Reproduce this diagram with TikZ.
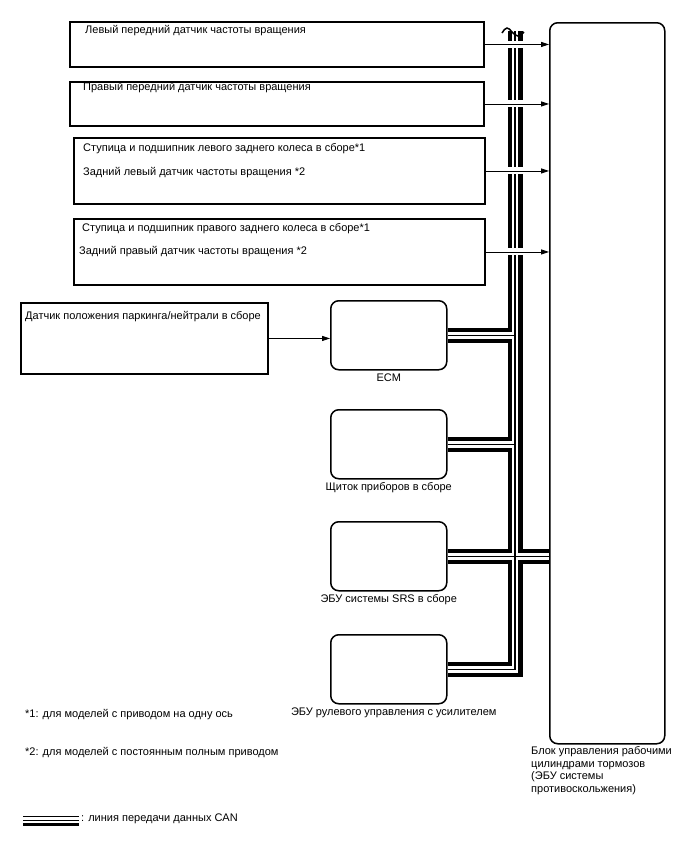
\documentclass[tikz,border=0pt]{standalone}
\usepackage{fontspec}
\setmainfont{Liberation Sans}
\usetikzlibrary{positioning,arrows.meta}

\begin{document}
\begin{tikzpicture}[
  x=1pt,
  y=-1pt,
  font=\fontsize{11}{13}\selectfont,
  sensorbox/.style={
    draw=black,
    line width=1.9pt,
    anchor=north west,
    inner sep=0pt
  },
  unitbox/.style={
    draw=black,
    line width=1.5pt,
    rounded corners=8pt,
    anchor=north west,
    inner sep=0pt,
    minimum width=116pt,
    minimum height=69pt
  },
  boxtext/.style={
    anchor=west,
    inner sep=0pt
  },
  unitlabel/.style={
    inner sep=1pt
  },
  sigarrow/.style={
    draw=black,
    line width=0.9pt,
    -{Triangle[length=8pt,width=5pt]},
    preaction={draw=white,-,line width=7pt,shorten <=10pt,shorten >=10pt}
  },
  canouter/.style={
    draw=black,
    line width=15pt
  },
  cangap/.style={
    draw=white,
    line width=6.6pt
  },
  cancore/.style={
    draw=black,
    line width=1.5pt
  }
]

\useasboundingbox (0,0) rectangle (688,852);

% wheel sensors
\node[sensorbox, minimum width=414pt, minimum height=45pt] (lfsensor) at (69,21) {};
\node[sensorbox, minimum width=414pt, minimum height=44pt] (rfsensor) at (69,81) {};
\node[sensorbox, minimum width=411pt, minimum height=66pt] (lrsensor) at (73,137) {};
\node[sensorbox, minimum width=411pt, minimum height=66pt] (rrsensor) at (73,218) {};
\node[sensorbox, minimum width=247pt, minimum height=71pt] (pnpsensor) at (20,302) {};

\node[boxtext] (lftext) at (85,31) {Левый передний датчик частоты вращения};
\node[boxtext] (rftext) at (83,88) {Правый передний датчик частоты вращения};
\node[boxtext] (lrhub) at (83,149) {Ступица и подшипник левого заднего колеса в сборе*1};
\node[boxtext] (lrtext) at (83,173) {Задний левый датчик частоты вращения *2};
\node[boxtext] (rrhub) at (82,229) {Ступица и подшипник правого заднего колеса в сборе*1};
\node[boxtext] (rrtext) at (79,252) {Задний правый датчик частоты вращения *2};
\node[boxtext] (pnptext) at (25,317) {Датчик положения паркинга/нейтрали в сборе};

% ECUs on the bus
\node[unitbox] (ecm) at (330,300) {};
\node[unitbox] (cluster) at (330,409) {};
\node[unitbox] (srs) at (330,521) {};
\node[unitbox] (psecu) at (330,634) {};

\node[unitlabel, below=2pt of ecm] (ecmlabel) {ECM};
\node[unitlabel, below=2pt of cluster] (clusterlabel) {Щиток приборов в сборе};
\node[unitlabel, below=2pt of srs] (srslabel) {ЭБУ системы SRS в сборе};
\node[unitlabel, below=2pt of psecu, xshift=5pt] (pslabel) {ЭБУ рулевого управления с усилителем};

% brake actuator ECU
\node[draw=black, line width=1.5pt, rounded corners=8pt, anchor=north west,
  minimum width=115pt, minimum height=721pt, inner sep=0pt] (abs) at (549,22) {};
\node[anchor=north west, inner sep=0pt, align=left,
  font=\fontsize{11}{12.8}\selectfont] (abslabel) at (531,746)
  {Блок управления рабочими\\цилиндрами тормозов\\(ЭБУ системы\\противоскольжения)};

% CAN bus
\coordinate (bustop) at (515,31);
\newcommand{\canrun}[1]{%
  \draw[#1] (bustop) -- (bustop |- psecu.east) -- (psecu.east);
  \draw[#1] (ecm.east) -- (ecm.east -| bustop);
  \draw[#1] (cluster.east) -- (cluster.east -| bustop);
  \draw[#1] (srs.east) -- (srs.east -| abs.west);
}
\foreach \layer in {canouter,cangap,cancore} {\canrun{\layer}}
\draw[line width=1.5pt] (502,33) sin (507,28) cos (512,32) sin (518,36) cos (524,32);

% signal lines
\draw[sigarrow] (lfsensor.east) -- (lfsensor.east -| abs.west);
\draw[sigarrow] (rfsensor.east) -- (rfsensor.east -| abs.west);
\draw[sigarrow] (lrsensor.east) -- (lrsensor.east -| abs.west);
\draw[sigarrow] (rrsensor.east) -- (rrsensor.east -| abs.west);
\draw[sigarrow] (pnpsensor.east) -- (pnpsensor.east -| ecm.west);

% notes
\node[boxtext] (note1) at (25,715) {*1: для моделей с приводом на одну ось};
\node[boxtext] (note2) at (25,753) {*2: для моделей с постоянным полным приводом};
\coordinate (canleg) at (23,820.5);
\node[boxtext] (canlegtext) at (81,819) {: линия передачи данных CAN};
\draw[line width=1.6pt] ([yshift=4pt]canleg) -- ++(56,0);
\draw[line width=1.6pt] (canleg) -- ++(56,0);
\draw[line width=2.2pt] ([yshift=-4pt]canleg) -- ++(56,0);

\end{tikzpicture}
\end{document}
